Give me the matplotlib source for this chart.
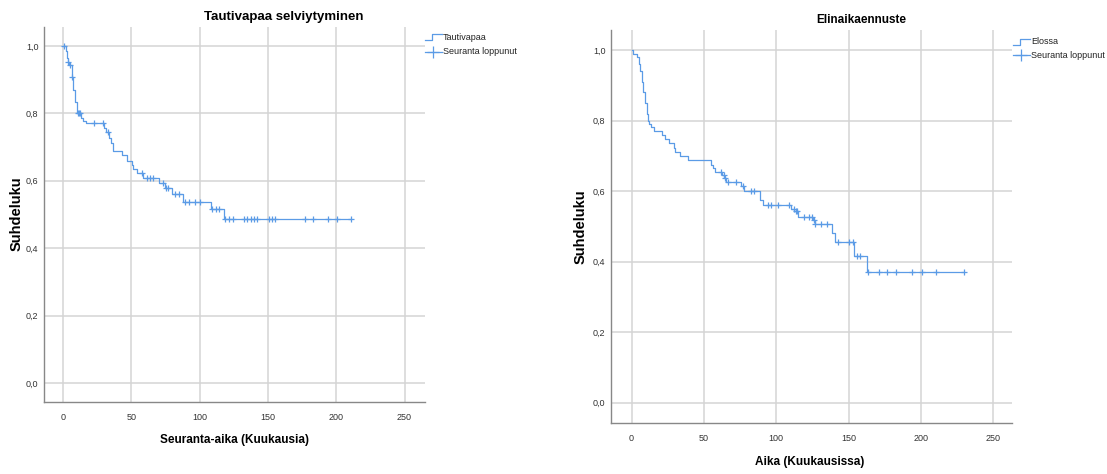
import numpy as np
import matplotlib.pyplot as plt
from matplotlib.lines import Line2D
from matplotlib import font_manager

# --- data ---
dfs_times = [0, 2.0, 3.0, 3.5, 4.6, 6.3, 7.6, 8.8, 10.0, 12.9, 14.9, 16.9, 29.9, 31.3, 33.9,
             34.9, 36.3, 42.9, 47.0, 50.2, 51.4, 53.8, 58.7, 70.5, 74.5, 80.0, 87.9, 108.5, 118.0]
dfs_surv = [1.0, 0.985, 0.965, 0.953, 0.944, 0.908, 0.87, 0.835, 0.80, 0.787, 0.778, 0.771, 0.756,
            0.746, 0.726, 0.711, 0.688, 0.677, 0.66, 0.647, 0.634, 0.622, 0.607, 0.593, 0.578,
            0.561, 0.537, 0.515, 0.488]
dfs_censored = [1.0, 3.9, 5.1, 6.8, 11.2, 11.8, 12.4, 22.9, 28.9, 32.6, 57.5, 61.2, 63.6, 65.6,
                73.0, 75.5, 76.8, 82.0, 84.5, 89.0, 92.3, 96.5, 100.6, 108.7, 111.6, 114.3,
                118.9, 121.3, 124.4, 132.2, 134.9, 137.3, 139.6, 142.3, 150.6, 153.0, 155.5,
                176.9, 183.0, 194.0, 200.6, 211.0]

os_times = [0, 1.2, 4.1, 4.9, 6.1, 7.0, 8.0, 9.2, 10.4, 11.7, 12.4, 13.3, 15.3, 21.4, 23.0, 26.0,
            29.1, 30.0, 33.3, 38.8, 55.1, 56.3, 57.5, 62.6, 63.8, 65.5, 76.0, 77.4, 88.6, 91.0,
            110.4, 112.4, 115.3, 125.5, 126.5, 138.3, 140.8, 154.1, 162.6]
os_surv = [1.0, 0.99, 0.98, 0.96, 0.94, 0.91, 0.88, 0.85, 0.82, 0.80, 0.79, 0.781, 0.770, 0.759,
           0.747, 0.735, 0.722, 0.712, 0.70, 0.688, 0.675, 0.665, 0.655, 0.645, 0.636, 0.627,
           0.615, 0.601, 0.575, 0.56, 0.55, 0.543, 0.527, 0.517, 0.507, 0.48, 0.455, 0.416, 0.370]
os_censored = [62.1, 63.6, 64.3, 67.0, 72.1, 77.0, 82.3, 84.7, 94.4, 96.1, 101.0, 109.0, 112.0,
               113.6, 114.6, 119.4, 123.0, 124.5, 126.0, 126.9, 131.3, 135.2, 142.7, 150.0, 153.2,
               155.8, 157.8, 163.6, 170.9, 176.7, 182.8, 193.7, 201.0, 210.7, 229.9]

x_ticks = [0, 50, 100, 150, 200, 250]
y_ticks = [0.0, 0.2, 0.4, 0.6, 0.8, 1.0]

# fonts: narrow Arial-like if present
names = {f.name for f in font_manager.fontManager.ttflist}
narrow = 'Liberation Sans Narrow' if 'Liberation Sans Narrow' in names else 'Liberation Sans'
plt.rcParams['font.family'] = [narrow, 'DejaVu Sans']

W, H = 1107, 474
LINE = '#5b9be6'
GRID = '#d4d4d4'

fig = plt.figure(figsize=(W / 100, H / 100), dpi=100)


def px(x, y):
    return x / W, 1 - y / H


def make_axes(l, t, r, b):
    return fig.add_axes([l / W, 1 - b / H, (r - l) / W, (b - t) / H])


def km_plot(ax, times, surv, censored, xlim, ylim):
    end = censored[-1]
    ax.step(times + [end], surv + [surv[-1]], where='post', color=LINE, lw=0.9, zorder=3)
    idx = np.searchsorted(times, censored, side='right') - 1
    cy = np.array(surv)[idx]
    ax.plot(censored, cy, ls='none', marker='+', ms=5, mew=0.9, color=LINE, zorder=4)
    ax.set_xlim(*xlim)
    ax.set_ylim(*ylim)
    ax.set_xticks(x_ticks)
    ax.set_yticks(y_ticks)
    ax.set_yticklabels([f'{v:.1f}'.replace('.', ',') for v in y_ticks])
    ax.grid(True, color=GRID, lw=1.1)
    ax.set_axisbelow(True)
    for s in ['top', 'right']:
        ax.spines[s].set_visible(False)
    for s in ['left', 'bottom']:
        ax.spines[s].set_color('#888888')
        ax.spines[s].set_linewidth(1.0)
    ax.tick_params(length=0, labelsize=6.5, colors='#333333')
    ax.tick_params(axis='x', pad=8)
    ax.tick_params(axis='y', pad=4)


def legend(x0, y1, y2, label):
    # step symbol
    xs = [x0, x0 + 7, x0 + 7, x0 + 17]
    ys = [y1 + 3, y1 + 3, y1 - 3, y1 - 3]
    fig.add_artist(Line2D(*zip(*[px(a, b) for a, b in zip(xs, ys)]), color=LINE, lw=0.9))
    fig.text(*px(x0 + 18, y1), label, fontsize=6.5, va='center', ha='left', color='#222222')
    # censored symbol
    fig.add_artist(Line2D(*zip(px(x0, y2), px(x0 + 17, y2)), color=LINE, lw=0.9))
    fig.add_artist(Line2D([px(x0 + 8, y2)[0]], [px(x0 + 8, y2)[1]], marker='+', ms=8,
                          mew=0.9, color=LINE))
    fig.text(*px(x0 + 18, y2), 'Seuranta loppunut', fontsize=6.5, va='center', ha='left',
             color='#222222')


# left panel
ax1 = make_axes(44, 27, 425, 402)
km_plot(ax1, dfs_times, dfs_surv, dfs_censored, (-14, 265), (-0.056, 1.056))
fig.text(*px(284, 17), 'Tautivapaa selviytyminen', fontsize=9.5, fontweight='bold',
         ha='center', va='center')
fig.text(*px(235, 440), 'Seuranta-aika (Kuukausia)', fontsize=8.5, fontweight='bold',
         ha='center', va='center')
fig.text(*px(17, 214), 'Suhdeluku', fontsize=10.5, fontweight='bold', rotation=90,
         ha='center', va='center', family=['Liberation Sans', 'DejaVu Sans'])
legend(425, 37, 52, 'Tautivapaa')

# right panel
ax2 = make_axes(611, 30, 1012, 423)
km_plot(ax2, os_times, os_surv, os_censored, (-14.2, 263), (-0.058, 1.057))
fig.text(*px(861, 20), 'Elinaikaennuste', fontsize=8.5, fontweight='bold',
         ha='center', va='center')
fig.text(*px(810, 462), 'Aika (Kuukausissa)', fontsize=8.5, fontweight='bold',
         ha='center', va='center')
fig.text(*px(581, 227), 'Suhdeluku', fontsize=10.5, fontweight='bold', rotation=90,
         ha='center', va='center', family=['Liberation Sans', 'DejaVu Sans'])
legend(1013, 42, 55, 'Elossa')

fig.savefig('out.png', dpi=100, facecolor='white')
